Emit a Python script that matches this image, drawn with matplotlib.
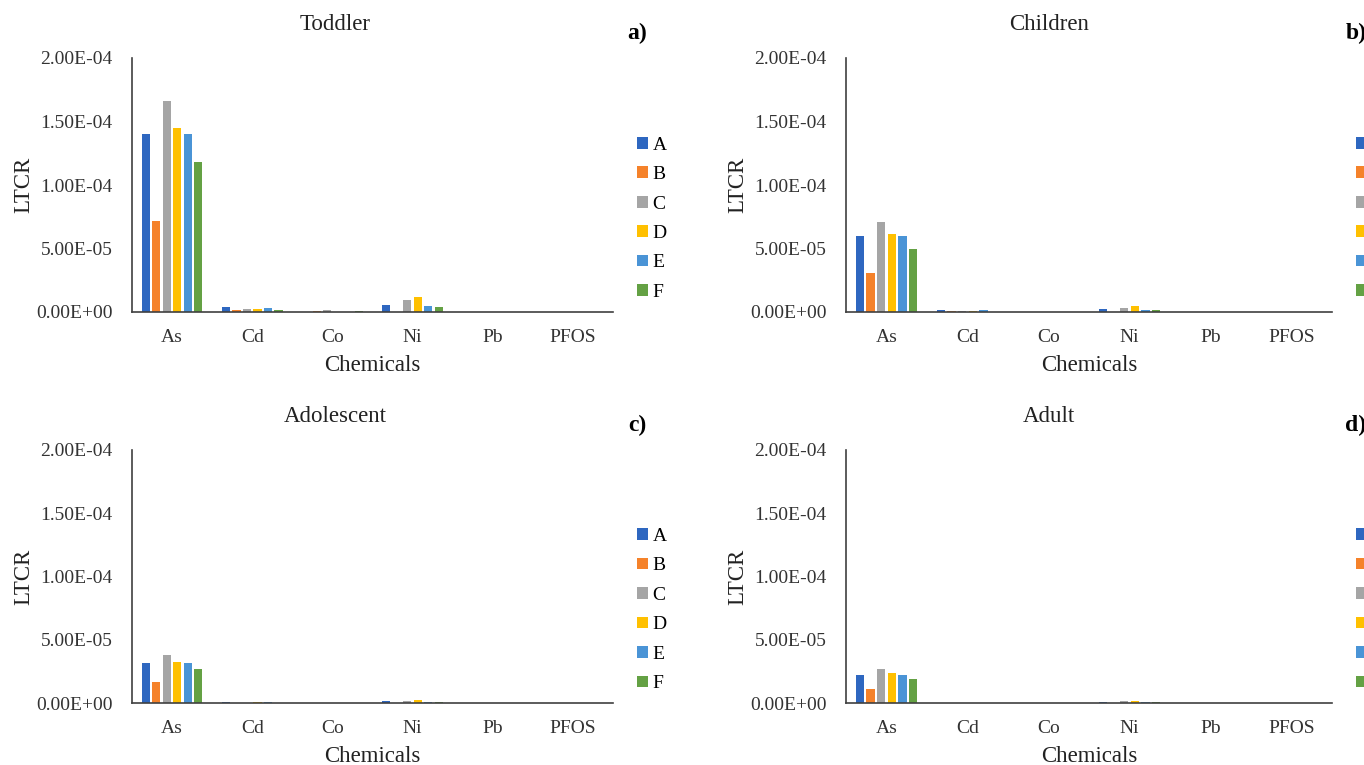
import numpy as np
import matplotlib.pyplot as plt
from matplotlib.ticker import FuncFormatter

plt.rcParams['font.family'] = ['Liberation Serif', 'DejaVu Serif']

chemicals = ['As', 'Cd', 'Co', 'Ni', 'Pb', 'PFOS']
groups = ['A', 'B', 'C', 'D', 'E', 'F']
colors = ['#2E67C0', '#F5822A', '#A5A5A5', '#FFC000', '#4A94D6', '#64A144']

# rows = groups A..F, columns = chemicals
toddler = [
    [1.40e-4, 3.7e-6, 0.0, 5.5e-6, 0, 0],
    [7.20e-5, 1.6e-6, 0.8e-6, 0.0, 0, 0],
    [1.66e-4, 2.1e-6, 1.3e-6, 9.2e-6, 0, 0],
    [1.45e-4, 2.6e-6, 0.0, 1.2e-5, 0, 0],
    [1.40e-4, 3.1e-6, 0.0, 4.7e-6, 0, 0],
    [1.18e-4, 1.6e-6, 0.8e-6, 3.7e-6, 0, 0],
]
children = [
    [5.95e-5, 1.4e-6, 0, 2.3e-6, 0, 0],
    [3.05e-5, 0.8e-6, 0, 0.0, 0, 0],
    [7.05e-5, 0.9e-6, 0, 3.5e-6, 0, 0],
    [6.15e-5, 0.9e-6, 0, 4.5e-6, 0, 0],
    [5.95e-5, 1.3e-6, 0, 1.8e-6, 0, 0],
    [5.00e-5, 0.0, 0, 1.3e-6, 0, 0],
]
adolescent = [
    [3.16e-5, 0.8e-6, 0, 1.3e-6, 0, 0],
    [1.65e-5, 0.0, 0, 0.0, 0, 0],
    [3.76e-5, 0.0, 0, 1.8e-6, 0, 0],
    [3.26e-5, 0.6e-6, 0, 2.4e-6, 0, 0],
    [3.16e-5, 0.7e-6, 0, 0.9e-6, 0, 0],
    [2.66e-5, 0.0, 0, 0.8e-6, 0, 0],
]
adult = [
    [2.24e-5, 0, 0, 0.8e-6, 0, 0],
    [1.13e-5, 0, 0, 0.0, 0, 0],
    [2.66e-5, 0, 0, 1.3e-6, 0, 0],
    [2.34e-5, 0, 0, 1.8e-6, 0, 0],
    [2.24e-5, 0, 0, 0.8e-6, 0, 0],
    [1.90e-5, 0, 0, 0.8e-6, 0, 0],
]

panels = [
    ('Toddler', 'a)', toddler, [132, 58, 613, 312]),
    ('Children', 'b)', children, [846, 58, 1332, 312]),
    ('Adolescent', 'c)', adolescent, [132, 450, 613, 703]),
    ('Adult', 'd)', adult, [846, 450, 1332, 703]),
]

W, H = 1364, 765
fig = plt.figure(figsize=(W / 100, H / 100), dpi=100)

x = np.arange(len(chemicals))
step = 0.131
for title, tag, data, (l, t, r, b) in panels:
    ax = fig.add_axes([l / W, 1 - b / H, (r - l) / W, (b - t) / H])
    for i, g in enumerate(groups):
        ax.bar(x + (i - 2.5) * step, data[i], width=0.102, color=colors[i],
               label=g, linewidth=0)
    ax.set_xlim(-0.5, 5.5)
    ax.set_ylim(0, 2e-4)
    ax.set_yticks([0, 5e-5, 1e-4, 1.5e-4, 2e-4])
    ax.yaxis.set_major_formatter(FuncFormatter(lambda v, p: '{:.2E}'.format(v)))
    ax.set_xticks(x)
    ax.set_xticklabels(chemicals)
    ax.tick_params(length=0, labelsize=14, colors='#333333')
    ax.tick_params(axis='y', pad=14)
    ax.tick_params(axis='x', pad=12)
    for s in ['top', 'right']:
        ax.spines[s].set_visible(False)
    for s in ['left', 'bottom']:
        ax.spines[s].set_color('#404040')
        ax.spines[s].set_linewidth(1.2)
    ax.set_xlabel('Chemicals', fontsize=16.5, labelpad=7, color='#222222')
    ax.set_ylabel('LTCR', fontsize=16.5, labelpad=1, color='#222222')
    ax.legend(loc='center left', bbox_to_anchor=(1.034, 0.367), frameon=False,
              fontsize=14, handlelength=0.55, handleheight=0.55,
              handletextpad=0.25, labelspacing=0.64, borderaxespad=0)
    cx = l - 132 + 335
    fig.text(cx / W, 1 - (t - 33) / H, title, ha='center', va='center',
             fontsize=16.5, color='#222222')
    fig.text((r + 24) / W, 1 - (t - 25) / H, tag, ha='center', va='center',
             fontsize=17, fontweight='bold')

fig.savefig('out.png', dpi=100)
